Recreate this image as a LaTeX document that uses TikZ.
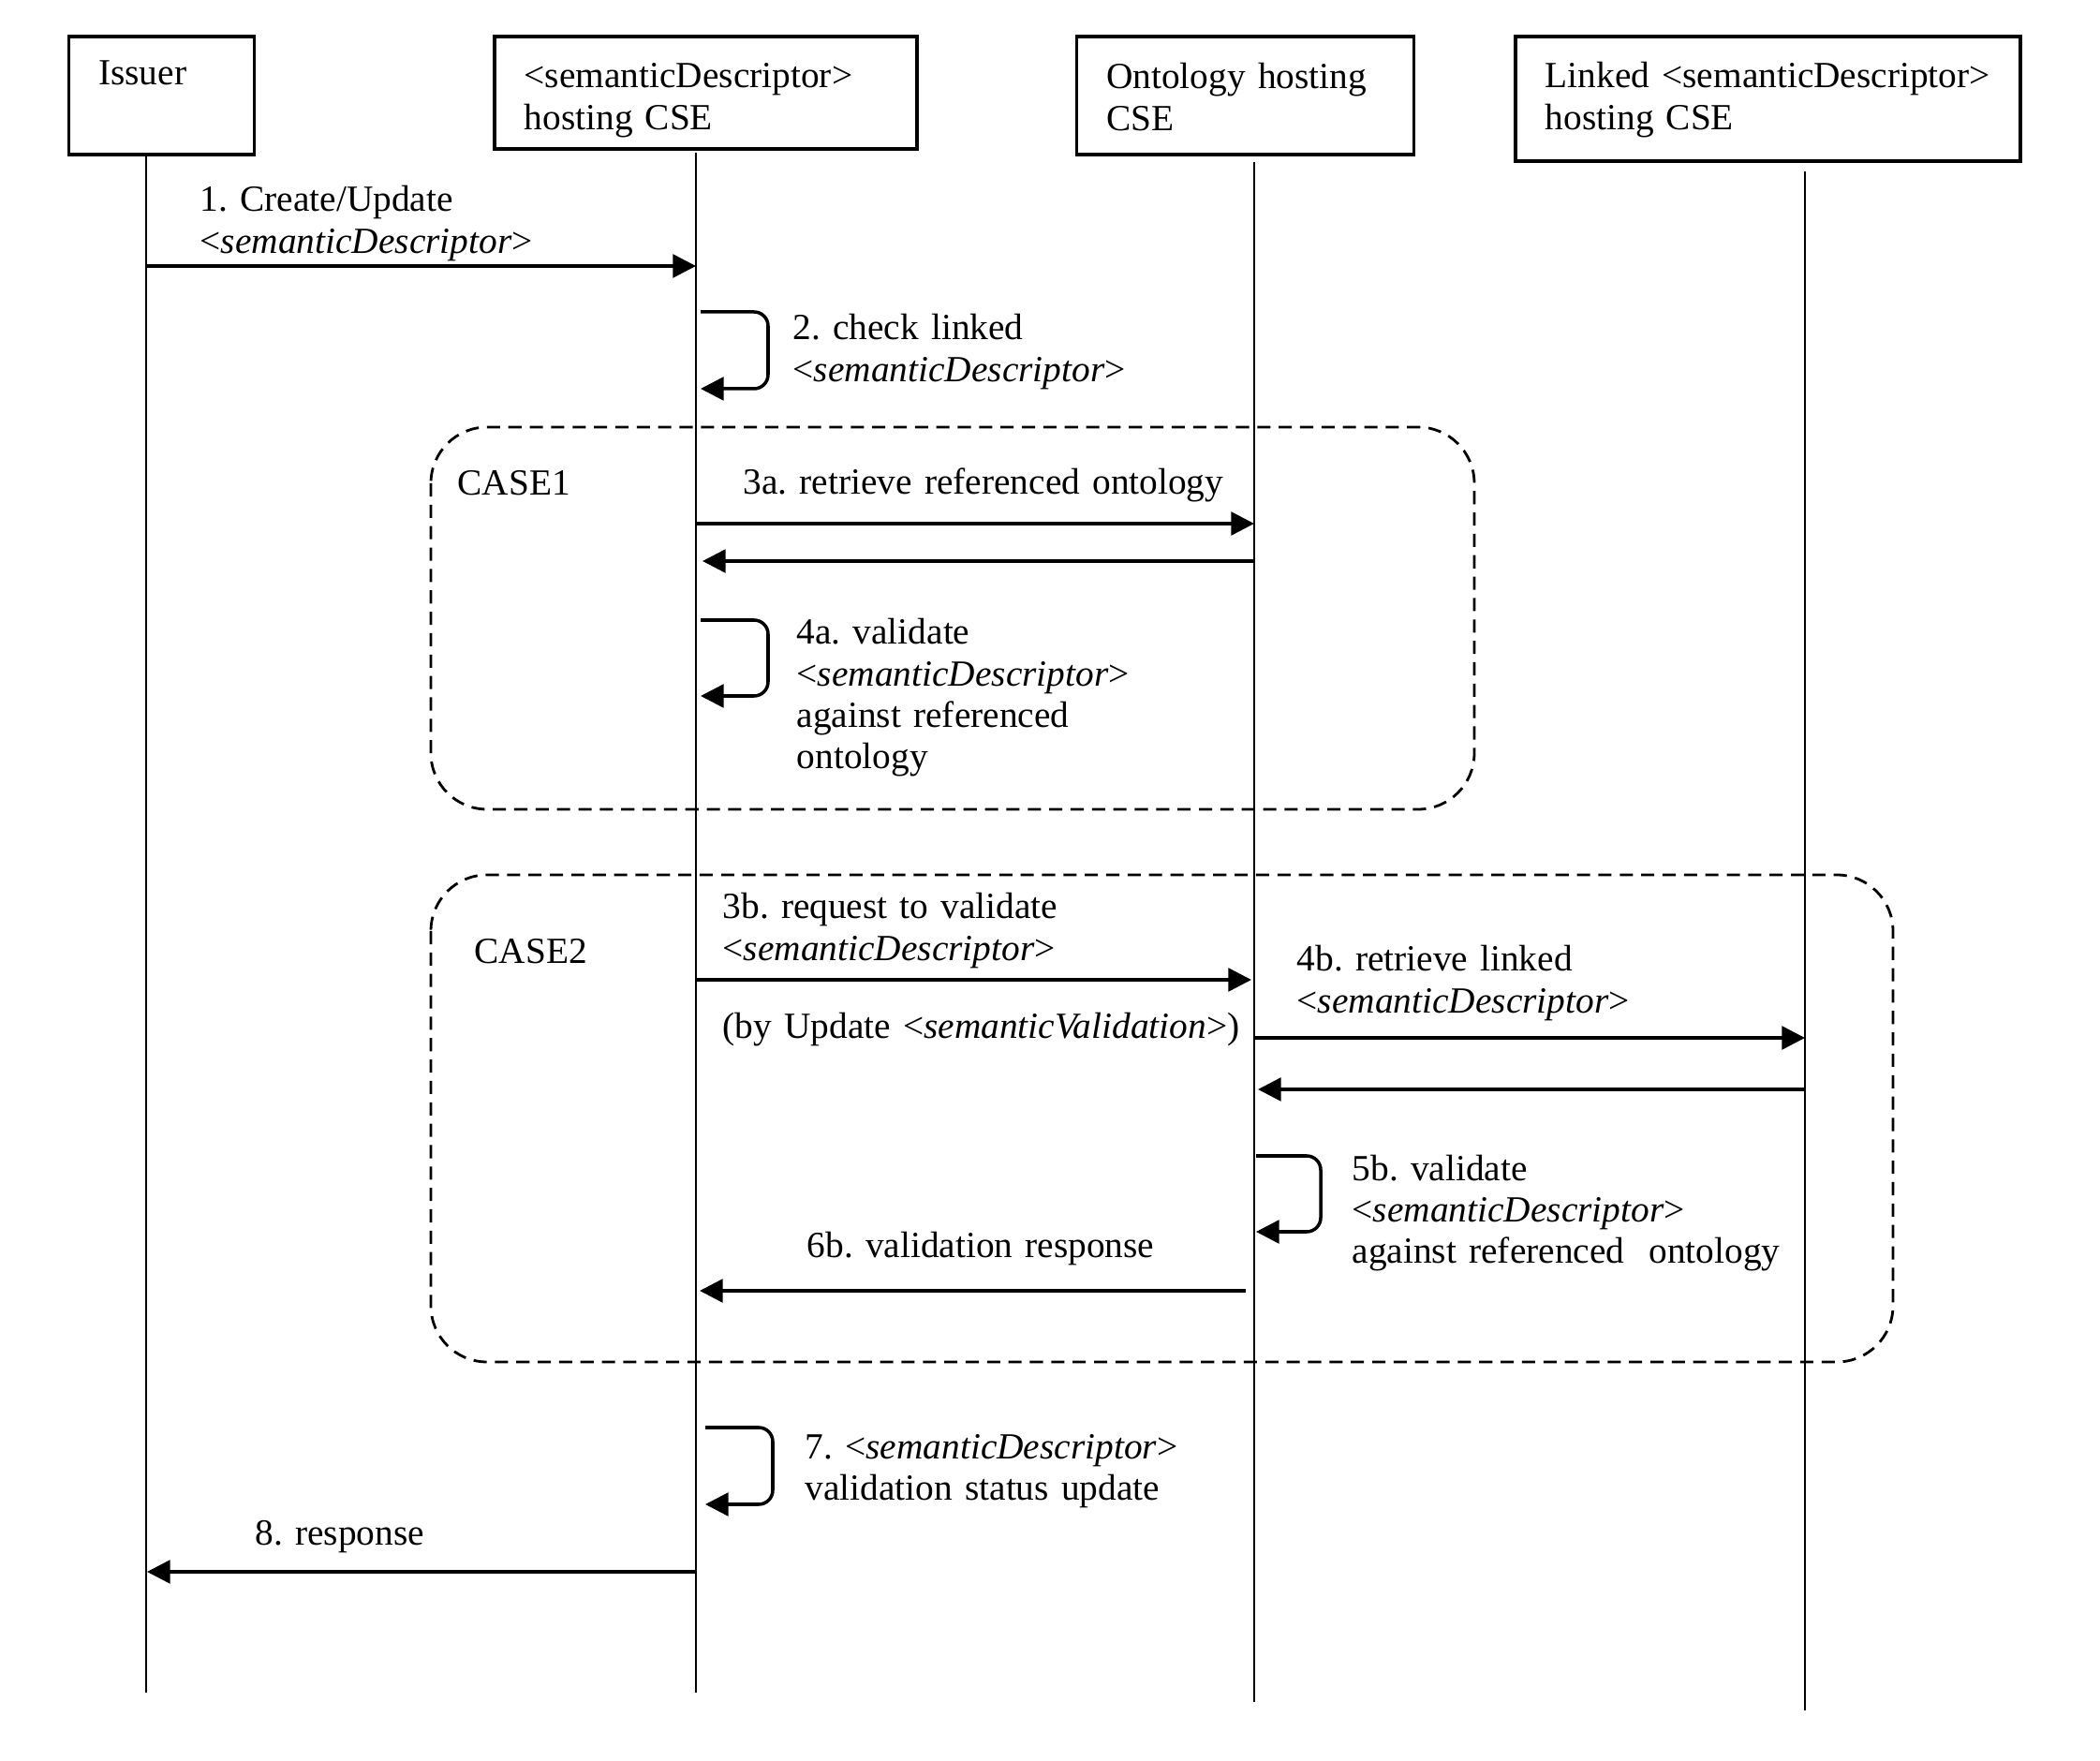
\documentclass[tikz,border=0pt]{standalone}
\usepackage{fontspec}
\setmainfont{Liberation Serif}
\usetikzlibrary{arrows.meta}

\tikzstyle{actor} = [draw, line width=1pt, anchor=north west, align=left, inner xsep=0.32cm, inner ysep=0pt]
\tikzstyle{lifeline} = [draw, line width=0.6pt]
\tikzstyle{msg} = [draw, line width=1pt, -{Triangle[length=7pt, width=7pt]}]
\tikzstyle{selfmsg} = [msg, rounded corners=0.15cm]
\tikzstyle{lbl} = [anchor=base west, align=left, text width=6cm, inner sep=0pt]
\tikzstyle{casebox} = [draw, line width=0.8pt, dash pattern=on 4pt off 2.5pt, rounded corners=0.6cm]

\begin{document}
\begin{tikzpicture}[y=-1cm, font=\fontsize{11.2}{12.6}\selectfont\frenchspacing]
  \useasboundingbox (0,0) rectangle (22.42,18.80);

  % participants
  \node[actor, text width=1.34cm, text height=0.52cm, text depth=0.74cm] (issuer) at (0.715,0.37) {Issuer};
  \node[actor, text width=3.87cm, text height=0.55cm, text depth=0.65cm] (sdcse) at (5.26,0.37) {<semanticDescriptor>\\hosting CSE};
  \node[actor, text width=2.96cm, text height=0.56cm, text depth=0.70cm] (ontcse) at (11.475,0.37) {Ontology hosting\\CSE};
  \node[actor, text width=4.75cm, text height=0.55cm, text depth=0.78cm] (lnkcse) at (16.16,0.37) {\mbox{Linked <semanticDescriptor>}\\hosting CSE};

  % lifelines
  \coordinate (isstop) at (1.56,1.63);
  \coordinate (issbot) at (1.56,18.07);
  \coordinate (sdtop) at (7.43,1.63);
  \coordinate (sdbot) at (7.43,18.07);
  \coordinate (onttop) at (13.39,1.73);
  \coordinate (ontbot) at (13.39,18.17);
  \coordinate (lnktop) at (19.27,1.83);
  \coordinate (lnkbot) at (19.27,18.26);
  \path[lifeline] (isstop) -- (issbot);
  \path[lifeline] (sdtop) -- (sdbot);
  \path[lifeline] (onttop) -- (ontbot);
  \path[lifeline] (lnktop) -- (lnkbot);

  % cases
  \draw[casebox] (4.60,4.56) rectangle (15.74,8.64);
  \draw[casebox] (4.60,9.34) rectangle (20.21,14.54);
  \node[lbl] (case1) at (4.88,5.29) {CASE1};
  \node[lbl] (case2) at (5.06,10.29) {CASE2};

  % message end points
  \coordinate (iss1) at (1.56,2.84);   \coordinate (sd1) at (7.43,2.84);
  \coordinate (sd2a) at (7.48,3.33);   \coordinate (sd2b) at (7.48,4.15);
  \coordinate (sd3a) at (7.43,5.59);   \coordinate (ont3a) at (13.39,5.59);
  \coordinate (ont3r) at (13.39,5.99); \coordinate (sd3r) at (7.50,5.99);
  \coordinate (sd4a) at (7.48,6.62);   \coordinate (sd4b) at (7.48,7.43);
  \coordinate (sd3b) at (7.43,10.46);  \coordinate (ont3b) at (13.36,10.46);
  \coordinate (ont4b) at (13.39,11.08); \coordinate (lnk4b) at (19.27,11.08);
  \coordinate (lnk4r) at (19.27,11.63); \coordinate (ont4r) at (13.43,11.63);
  \coordinate (ont5a) at (13.41,12.34); \coordinate (ont5b) at (13.41,13.15);
  \coordinate (ont6) at (13.30,13.78); \coordinate (sd6) at (7.47,13.78);
  \coordinate (sd7a) at (7.53,15.24);  \coordinate (sd7b) at (7.53,16.06);
  \coordinate (sd8) at (7.43,16.78);   \coordinate (iss8) at (1.57,16.78);

  % messages
  \path[msg] (iss1) -- (sd1);
  \path[selfmsg] (sd2a) -- (8.20,3.33) -- (8.20,4.15) -- (sd2b);
  \path[msg] (sd3a) -- (ont3a);
  \path[msg] (ont3r) -- (sd3r);
  \path[selfmsg] (sd4a) -- (8.20,6.62) -- (8.20,7.43) -- (sd4b);
  \path[msg] (sd3b) -- (ont3b);
  \path[msg] (ont4b) -- (lnk4b);
  \path[msg] (lnk4r) -- (ont4r);
  \path[selfmsg] (ont5a) -- (14.10,12.34) -- (14.10,13.15) -- (ont5b);
  \path[msg] (ont6) -- (sd6);
  \path[selfmsg] (sd7a) -- (8.25,15.24) -- (8.25,16.06) -- (sd7b);
  \path[msg] (sd8) -- (iss8);

  % labels
  \node[lbl] (l1) at (2.13,2.26) {1. Create/Update\\<\textit{semanticDescriptor}>};
  \node[lbl] (l2) at (8.46,3.63) {2. check linked\\<\textit{semanticDescriptor}>};
  \node[lbl] (l3a) at (7.93,5.28) {3a. retrieve referenced ontology};
  \node[lbl] (l4a) at (8.50,6.88) {4a. validate\\<\textit{semanticDescriptor}>\\against referenced\\ontology};
  \node[lbl] (l3b) at (7.71,9.81) {3b. request to validate\\<\textit{semanticDescriptor}>};
  \node[lbl] (l3bu) at (7.71,11.09) {(by Update <\textit{semanticValidation}>)};
  \node[lbl] (l4b) at (13.84,10.37) {4b. retrieve linked\\<\textit{semanticDescriptor}>};
  \node[lbl] (l5b) at (14.43,12.60) {5b. validate\\<\textit{semanticDescriptor}>\\against referenced\ \ ontology};
  \node[lbl] (l6b) at (8.61,13.43) {6b. validation response};
  \node[lbl] (l7) at (8.59,15.57) {7. <\textit{semanticDescriptor}>\\validation status update};
  \node[lbl] (l8) at (2.72,16.49) {8. response};

\end{tikzpicture}
\end{document}
